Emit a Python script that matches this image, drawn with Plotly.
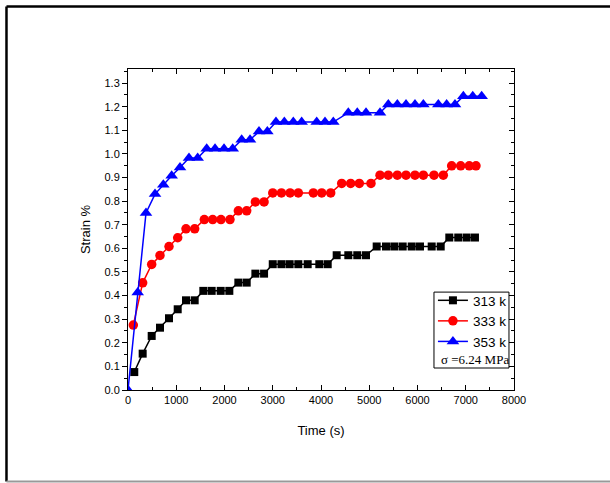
import plotly.graph_objects as go

# ---- data ----
time_313 = [130, 304, 491, 663, 850, 1030, 1202, 1382, 1561, 1734, 1921, 2100, 2287, 2460,
            2640, 2820, 3000, 3180, 3350, 3530, 3724, 3965, 4139, 4325, 4566, 4752, 4933,
            5154, 5347, 5519, 5693, 5880, 6052, 6294, 6481, 6659, 6845, 7019, 7191]
strain_313 = [0.076, 0.154, 0.229, 0.264, 0.304, 0.342, 0.38, 0.38, 0.42, 0.42, 0.42, 0.42,
              0.455, 0.455, 0.493, 0.493, 0.533, 0.533, 0.533, 0.533, 0.533, 0.533, 0.533,
              0.571, 0.571, 0.571, 0.571, 0.608, 0.608, 0.608, 0.608, 0.608, 0.608, 0.608,
              0.608, 0.646, 0.646, 0.646, 0.646]

time_333 = [110, 304, 491, 663, 850, 1030, 1202, 1382, 1582, 1755, 1927, 2114, 2287, 2460,
            2640, 2820, 3000, 3180, 3360, 3530, 3841, 4015, 4201, 4429, 4615, 4794, 5036,
            5223, 5395, 5582, 5762, 5948, 6121, 6342, 6535, 6708, 6895, 7073, 7212]
strain_333 = [0.275, 0.454, 0.532, 0.57, 0.608, 0.645, 0.683, 0.683, 0.722, 0.722, 0.722,
              0.722, 0.759, 0.759, 0.797, 0.797, 0.835, 0.835, 0.835, 0.835, 0.835, 0.835,
              0.835, 0.875, 0.875, 0.875, 0.875, 0.91, 0.91, 0.91, 0.91, 0.91, 0.91, 0.91,
              0.91, 0.95, 0.95, 0.95, 0.95]

time_353 = [0, 201, 373, 560, 732, 905, 1078, 1264, 1444, 1631, 1804, 1990, 2170, 2356, 2529,
            2715, 2888, 3067, 3240, 3426, 3599, 3911, 4083, 4255, 4566, 4752, 4933, 5223,
            5395, 5582, 5762, 5948, 6121, 6432, 6604, 6777, 6950, 7145, 7330]
strain_353 = [0.0, 0.413, 0.75, 0.83, 0.87, 0.908, 0.943, 0.983, 0.983, 1.022, 1.022, 1.022,
              1.022, 1.06, 1.06, 1.095, 1.095, 1.135, 1.135, 1.135, 1.135, 1.135, 1.135,
              1.135, 1.175, 1.175, 1.175, 1.175, 1.21, 1.21, 1.21, 1.21, 1.21, 1.21, 1.21,
              1.21, 1.245, 1.245, 1.245]

x_ticks = [0, 1000, 2000, 3000, 4000, 5000, 6000, 7000, 8000]
y_ticks = [0.0, 0.1, 0.2, 0.3, 0.4, 0.5, 0.6, 0.7, 0.8, 0.9, 1.0, 1.1, 1.2, 1.3]
y_tick_labels = [f"{v:.1f}" for v in y_ticks]
x_range = [0, 8000]
y_range = [0, 1.36]

SANS = "Liberation Sans, Arial, sans-serif"
SERIF = "Liberation Serif, Times New Roman, serif"

fig = go.Figure()
fig.add_trace(go.Scatter(x=time_313, y=strain_313, name="313 k", mode="lines+markers",
                         line=dict(color="black", width=1.5),
                         marker=dict(symbol="square", size=8, color="black")))
fig.add_trace(go.Scatter(x=time_333, y=strain_333, name="333 k", mode="lines+markers",
                         line=dict(color="#ff0000", width=1.5),
                         marker=dict(symbol="circle", size=9.5, color="#ff0000")))
fig.add_trace(go.Scatter(x=time_353, y=strain_353, name="353 k", mode="lines+markers",
                         line=dict(color="#0000ff", width=1.5),
                         marker=dict(symbol="triangle-up", size=11, color="#0000ff")))
# empty trace to carry the top/right frame axes
fig.add_trace(go.Scatter(x=[], y=[], xaxis="x2", yaxis="y2", showlegend=False,
                         hoverinfo="skip"))

axis_font = dict(family=SANS, size=11, color="black")

fig.update_layout(
    width=610, height=483,
    margin=dict(l=128, r=96, t=69, b=93),
    paper_bgcolor="white", plot_bgcolor="white",
    showlegend=True,
    xaxis=dict(range=x_range, tickvals=x_ticks, ticks="inside", ticklen=5,
               tickcolor="black", tickwidth=1, showline=True, linecolor="black",
               linewidth=1, showgrid=False, zeroline=False, tickfont=axis_font,
               minor=dict(dtick=500, ticks="inside", ticklen=3, tickcolor="black",
                          showgrid=False),
               title=dict(text="Time (s)", font=dict(family=SANS, size=13, color="black"),
                          standoff=20)),
    yaxis=dict(range=y_range, tickvals=y_ticks, ticktext=y_tick_labels, ticks="outside",
               ticklen=5, tickcolor="black", tickwidth=1, showline=True,
               linecolor="black", linewidth=1, showgrid=False, zeroline=False,
               tickfont=axis_font,
               minor=dict(dtick=0.05, ticks="outside", ticklen=3, tickcolor="black",
                          showgrid=False),
               title=dict(text="Strain %", font=dict(family=SANS, size=13, color="black"),
                          standoff=10)),
    xaxis2=dict(overlaying="x", side="top", range=x_range, tickvals=x_ticks,
                showticklabels=False, ticks="inside", ticklen=5, tickcolor="black",
                showline=True, linecolor="black", linewidth=1, showgrid=False,
                zeroline=False,
                minor=dict(dtick=500, ticks="inside", ticklen=3, tickcolor="black",
                           showgrid=False)),
    yaxis2=dict(overlaying="y", side="right", range=y_range, tickvals=y_ticks,
                showticklabels=False, ticks="inside", ticklen=5, tickcolor="black",
                showline=True, linecolor="black", linewidth=1, showgrid=False,
                zeroline=False,
                minor=dict(dtick=0.05, ticks="inside", ticklen=3, tickcolor="black",
                           showgrid=False)),
    legend=dict(x=0.79, y=0.327, xanchor="left", yanchor="top",
                bgcolor="rgba(0,0,0,0)", borderwidth=0,
                font=dict(family=SANS, size=13.5, color="black"),
                tracegroupgap=0),
)

# legend frame (box also holds the stress note)
fig.add_shape(type="rect", xref="paper", yref="paper",
              x0=0.7927, x1=0.987, y0=0.0685, y1=0.305,
              line=dict(color="black", width=1), fillcolor="white", layer="above",
              opacity=1)
fig.add_annotation(text="σ =6.24 MPa", xref="paper", yref="paper", x=0.806, y=0.0935,
                   xanchor="left", yanchor="middle", showarrow=False,
                   font=dict(family=SERIF, size=13, color="black"))

# outer picture frame
fig.add_shape(type="line", xref="paper", yref="paper", x0=-0.3148, x1=1.3, y0=1.1947,
              y1=1.1947, line=dict(color="black", width=2.5))
fig.add_shape(type="line", xref="paper", yref="paper", x0=-0.3148, x1=-0.3148, y0=1.1947,
              y1=-0.285, line=dict(color="black", width=2.5))
fig.add_shape(type="line", xref="paper", yref="paper", x0=-0.3148, x1=1.3, y0=-0.285,
              y1=-0.285, line=dict(color="#999999", width=2))

fig.write_html("out.html", config={"displayModeBar": False},
               post_script="document.body.style.margin='0';")
